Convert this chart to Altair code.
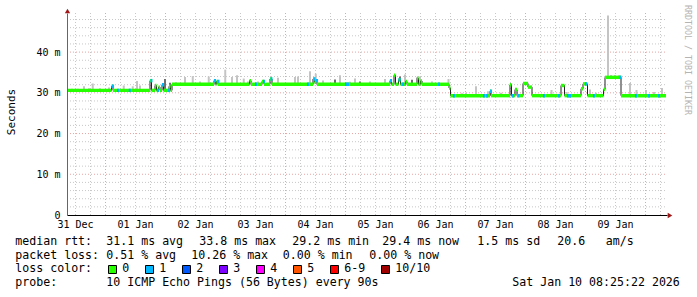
import altair as alt
import pandas as pd
from bisect import bisect_right

# ---------------- data ----------------
# x values are hours since 31 Dec 00:00, y values are milliseconds
day_labels = ["31 Dec", "01 Jan", "02 Jan", "03 Jan", "04 Jan",
              "05 Jan", "06 Jan", "07 Jan", "08 Jan", "09 Jan"]
label_hours = [12, 36, 60, 84, 108, 132, 156, 180, 204, 228]   # noon of each day
y_tick_ms = [0, 10, 20, 30, 40]
x_domain = [8.8, 248.8]
y_domain = [0, 49.6]

# median rtt as a step function: value holds from this hour until the next one
step_hours = [8.8, 26.6, 27.2, 42.0, 42.6, 44.0, 44.6, 45.4, 46.0, 46.8, 47.4, 49.6, 50.2,
              50.8, 67.6, 68.2, 68.6, 69.2, 81.8, 82.4, 86.8, 87.6, 90.0, 90.8,
              107.2, 107.8, 108.4, 108.8, 138.0, 138.6, 139.6, 140.2, 141.4, 142.2,
              144.2, 144.8, 148.8, 149.4, 150.2, 150.8, 161.6, 162.2,
              178.0, 178.4, 186.0, 186.6, 188.0, 188.8, 191.2, 193.2, 194.8,
              206.4, 207.8, 214.4, 215.2, 217.0, 223.4, 224.0, 230.4]
step_ms = [30.6, 31.6, 30.6, 33.0, 30.6, 31.8, 30.6, 31.4, 30.6, 32.0, 30.6, 31.6, 30.6,
           32.1, 33.0, 32.1, 32.8, 32.1, 33.0, 32.1, 32.8, 32.1, 33.4, 32.1,
           33.4, 32.6, 33.0, 32.1, 33.0, 32.1, 34.3, 32.1, 33.2, 32.1,
           32.8, 32.1, 33.6, 32.1, 32.9, 32.1, 31.2, 29.3,
           30.4, 29.3, 32.0, 29.3, 30.8, 29.3, 32.3, 31.4, 29.3,
           31.8, 29.3, 31.0, 32.2, 29.3, 30.8, 33.8, 29.3]
line_end_hour = 248.4

# samples with 1 lost ping out of 10
loss_hours = [26.8, 28.8, 33.5, 42.2, 44.8, 46.8, 49.2, 67.6, 69.0, 84.0, 87.2, 90.2,
              104.8, 107.4, 108.4, 120.0, 120.8, 138.0, 141.4, 142.8, 157.2, 163.2,
              175.2, 176.4, 178.0, 186.8, 189.0, 199.2, 205.2, 208.8, 209.6, 216.0,
              219.2, 229.8, 236.0, 241.2, 245.2]

# smoke (spread of the individual pings) above the median
smoke_hours = [10.8, 13.2, 15.6, 17.6, 19.1, 22.0, 25.6, 31.5, 35.1, 36.8, 38.0, 42.1, 48.0, 50.0,
               52.4, 56.0, 59.1, 62.0, 65.5, 72.1, 74.8, 76.8, 79.5, 81.2, 85.2, 93.2,
               100.0, 101.2, 106.0, 108.3, 111.2, 116.0, 118.0, 122.0, 124.0, 126.0, 130.0,
               136.0, 142.0, 144.0, 146.8, 148.8, 150.0, 154.8, 161.4,
               166.8, 168.4, 172.4, 177.2, 182.4, 202.6, 208.7, 218.0, 220.4,
               225.2, 226.4, 228.0, 229.6, 234.0, 236.6, 240.4, 243.6, 246.8]
smoke_top_ms = [31.0, 31.0, 31.6, 31.1, 32.3, 31.1, 31.3, 31.8, 31.6, 32.9, 31.8, 33.0, 33.4, 32.5,
                32.6, 33.9, 34.1, 32.8, 34.0, 35.7, 33.9, 34.3, 33.5, 32.8, 32.8, 33.7,
                33.9, 34.0, 35.3, 34.7, 33.0, 33.3, 34.3, 32.7, 33.5, 32.8, 32.8,
                33.4, 34.0, 34.5, 33.2, 33.8, 34.0, 32.8, 33.4,
                29.9, 30.0, 31.6, 30.4, 30.0, 30.7, 30.2, 30.8, 30.0,
                49.0, 34.4, 34.4, 34.3, 32.4, 30.7, 30.7, 30.2, 31.2]
smoke_shade = ["light"] * 11 + ["dark", "dark", "dark"] + \
              ["light"] * 17 + ["dark", "light", "light", "light", "dark", "light",
                                "light", "dark", "light", "dark", "light", "light", "light", "light"] + \
              ["light"] * 18

loss_labels = ["0", "1", "2", "3", "4", "5", "6-9", "10/10"]
loss_colors = ["#26ff00", "#00b8ff", "#0059ff", "#7e00ff", "#ff00ff", "#ff5500", "#ff0000", "#a10000"]

rtt_avg, rtt_max, rtt_min, rtt_now, rtt_sd, am_s = 31.1, 33.8, 29.2, 29.4, 1.5, 20.6
loss_avg, loss_max, loss_min, loss_now = 0.51, 10.26, 0.00, 0.00
probe_text = "10 ICMP Echo Pings (56 Bytes) every 90s"
stamp_text = "Sat Jan 10 08:25:22 2026"
side_text = "RRDTOOL / TOBI OETIKER"
y_title = "Seconds"

# ---------------- style ----------------
MONO = "DejaVu Sans Mono"
W, H = 600, 202
OX, OY = 67, 13          # plot origin in page pixels
BAND = 0.42              # half thickness of the coloured median band (ms)
ARROW = "#a01818"


def median_at(h):
    return step_ms[max(0, bisect_right(step_hours, h) - 1)]


xs = alt.Scale(domain=x_domain, nice=False, zero=False)
ys = alt.Scale(domain=y_domain, nice=False, zero=False)
x_label_expr = "[" + ",".join("'" + s + "'" for s in day_labels) + "][round((datum.value - 12) / 24)]"
x_axis = alt.Axis(values=label_hours, labelExpr=x_label_expr, grid=False, ticks=False,
                  domainColor="#000000", domainWidth=1, labelFont=MONO, labelFontSize=10,
                  labelColor="#000000", labelPadding=4, labelFlush=False, labelOverlap=False,
                  title=None, zindex=1)
y_axis = alt.Axis(values=y_tick_ms, labelExpr="datum.value == 0 ? '0\u00a0\u00a0' : datum.value + ' m'",
                  grid=False, ticks=False, domainColor="#666666", domainWidth=1, labelFont=MONO,
                  labelFontSize=10, labelColor="#000000", labelPadding=7, labelOverlap=False,
                  title=None, zindex=1)


def X(f):
    return alt.X(f, type="quantitative", scale=xs, axis=x_axis)


def Y(f):
    return alt.Y(f, type="quantitative", scale=ys, axis=y_axis)


# grid
minor_v = pd.DataFrame({"h": [h for h in range(12, 247, 6) if h % 24]})
major_v = pd.DataFrame({"h": list(range(24, 247, 24))})
minor_h = pd.DataFrame({"v": [v for v in range(2, 49, 2) if v % 10]})
major_h = pd.DataFrame({"v": [10, 20, 30, 40]})

layers = [
    alt.Chart(minor_v).mark_rule(color="#c8c8c8", strokeDash=[1, 2], strokeWidth=1, xOffset=0.5)
    .encode(x=X("h"), y=alt.value(0), y2=alt.value(H)),
    alt.Chart(minor_h).mark_rule(color="#c8c8c8", strokeDash=[1, 2], strokeWidth=1)
    .encode(y=Y("v"), x=alt.value(0), x2=alt.value(W)),
    alt.Chart(major_v).mark_rule(color="#e8a4a4", strokeDash=[1, 2], strokeWidth=1, xOffset=0.5)
    .encode(x=X("h"), y=alt.value(0), y2=alt.value(H)),
    alt.Chart(major_h).mark_rule(color="#e8a4a4", strokeDash=[1, 2], strokeWidth=1)
    .encode(y=Y("v"), x=alt.value(0), x2=alt.value(W)),
]

# smoke
smoke_df = pd.DataFrame({"h": smoke_hours,
                         "lo": [median_at(h) for h in smoke_hours],
                         "hi": smoke_top_ms,
                         "shade": smoke_shade})
layers.append(
    alt.Chart(smoke_df).mark_rule(strokeWidth=2)
    .encode(x=X("h"), y=Y("lo"), y2="hi",
            color=alt.Color("shade:N", scale=alt.Scale(domain=["light", "dark"],
                                                       range=["#c4c4c4", "#6e6e6e"]), legend=None))
)

# thin black median line
line_df = pd.DataFrame({"h": step_hours + [line_end_hour], "ms": step_ms + [step_ms[-1]]})
layers.append(
    alt.Chart(line_df).mark_line(interpolate="step-after", color="#202020", strokeWidth=1)
    .encode(x=X("h"), y=Y("ms"))
)

# coloured median band (by packet loss)
band_rows = []
ends = step_hours[1:] + [line_end_hour]
for h0, h1, m in zip(step_hours, ends, step_ms):
    band_rows.append({"h": h0, "h2": h1, "lo": m - BAND, "hi": m + BAND, "c": loss_colors[0]})
for h in loss_hours:
    m = median_at(h)
    band_rows.append({"h": h, "h2": h + 0.8, "lo": m - BAND, "hi": m + BAND, "c": loss_colors[1]})
band_df = pd.DataFrame(band_rows)
layers.append(
    alt.Chart(band_df).mark_rect()
    .encode(x=X("h"), x2="h2", y=Y("lo"), y2="hi", color=alt.Color("c:N", scale=None))
)

one = pd.DataFrame({"a": [0]})


def txt(s, ax, ay, size=11.6, color="#000000", angle=0, align="left", font=MONO):
    return alt.Chart(one).mark_text(text=s, align=align, baseline="middle", font=font,
                                    fontSize=size, color=color, angle=angle) \
        .encode(x=alt.value(ax - OX), y=alt.value(ay - OY))


# arrows at the end of the axes
layers.append(alt.Chart(one).mark_point(shape="triangle-up", filled=True, size=28, color=ARROW, opacity=1)
              .encode(x=alt.value(0.5), y=alt.value(-2)))
layers.append(alt.Chart(one).mark_point(shape="triangle-right", filled=True, size=28, color=ARROW, opacity=1)
              .encode(x=alt.value(W + 3), y=alt.value(H + 0.5)))

# titles
layers.append(txt(y_title, 12, 112, size=11, angle=270, align="center"))
layers.append(txt(side_text, 687, 60, size=8.3, color="#b4b4b4", angle=90, align="center"))

# legend lines
L1, L2, L3, L4 = 241.5, 255.5, 269.2, 283.3
line1 = [("median rtt:", 16), (f"{rtt_avg:.1f} ms avg", 107), (f"{rtt_max:.1f} ms max", 200),
         (f"{rtt_min:.1f} ms min", 293), (f"{rtt_now:.1f} ms now", 383), (f"{rtt_sd:.1f} ms sd", 478),
         (f"{am_s:.1f}", 558), ("am/s", 606.5)]
line2 = [("packet loss:", 16), (f"{loss_avg:.2f} % avg", 107), (f"{loss_max:.2f} % max", 192),
         (f"{loss_min:.2f} % min", 283.5), (f"{loss_now:.2f} % now", 370)]
line4 = [("probe:", 16), (probe_text, 107), (stamp_text, 513)]
for s, ax in line1:
    layers.append(txt(s, ax - 0.7, L1))
for s, ax in line2:
    layers.append(txt(s, ax - 0.7, L2))
for s, ax in line4:
    layers.append(txt(s, ax - 0.7, L4))
layers.append(txt("loss color:", 15.3, L3))
swatch_x = [108, 145, 182, 219, 256, 293, 330, 381]
for lab, col, sx in zip(loss_labels, loss_colors, swatch_x):
    layers.append(alt.Chart(one).mark_rect(fill=col, stroke="#000000", strokeWidth=1)
                  .encode(x=alt.value(sx - OX + 0.5), x2=alt.value(sx - OX + 8.5),
                          y=alt.value(265.5 - OY), y2=alt.value(273.5 - OY)))
    layers.append(txt(lab, sx + 14.3, L3))

chart = alt.layer(*layers).properties(
    width=W, height=H,
    autosize=alt.AutoSizeParams(type="none"),
    padding={"left": OX, "top": OY, "right": 697 - OX - W, "bottom": 297 - OY - H},
    background="white",
).configure_view(strokeWidth=0)

chart.save("out.html", embed_options={"renderer": "svg", "actions": False})
